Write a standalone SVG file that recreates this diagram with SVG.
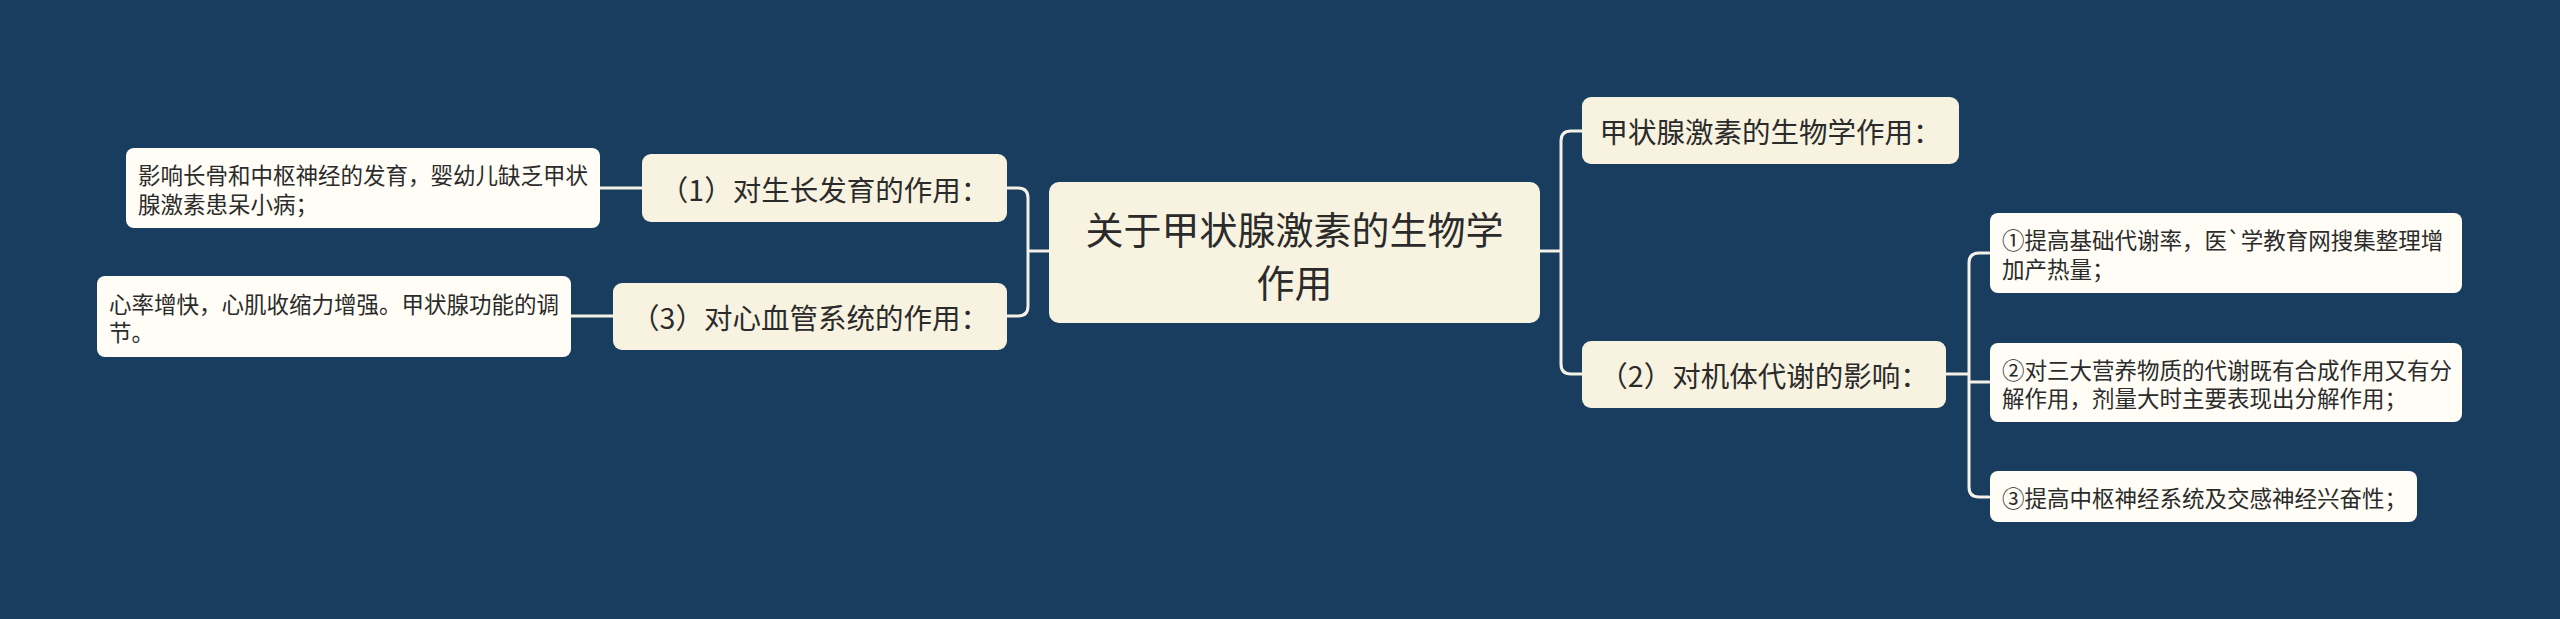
<svg xmlns="http://www.w3.org/2000/svg" width="2560" height="619" viewBox="0 0 2560 619">
<style>
.bg{fill:#183d5e}
.main{fill:#f8f3e0}
.br{fill:#f8f3e0}
.leaf{fill:#fffdf6}
.lk{fill:none;stroke:#f4f1e6;stroke-width:3;stroke-linecap:round}
text{font-family:"Noto Sans CJK SC","Noto Sans",sans-serif;fill:#2b2b2b;dominant-baseline:central}
.t0{font-size:38px}
.t1{font-size:28.5px}
.t2{font-size:22.5px}
</style>
<rect class="bg" x="0" y="0" width="2560" height="619"/>
<g id="connectors">
<path class="lk" d="M1540 251 H1561 M1582 131 H1571 Q1561 131 1561 141 V364 Q1561 374 1571 374 H1582"/>
<path class="lk" d="M1946 374 H1969 M1989 253 H1979 Q1969 253 1969 263 V487 Q1969 497 1979 497 H1989 M1969 382 H1989"/>
<path class="lk" d="M1049 251 H1028 M1007 188 H1018 Q1028 188 1028 198 V306 Q1028 316 1018 316 H1007"/>
<path class="lk" d="M642 188 H600"/>
<path class="lk" d="M613 316 H571"/>
</g>
<g id="n0">
<rect class="main" x="1049" y="182" width="491" height="141" rx="10"/>
<text class="t0" x="1294.5" y="227" text-anchor="middle">关于甲状腺激素的生物学</text>
<text class="t0" x="1294.5" y="280" text-anchor="middle">作用</text>
</g>
<g id="r1">
<rect class="br" x="1582" y="97" width="377" height="67" rx="9"/>
<text class="t1" x="1770.5" y="130.5" text-anchor="middle">甲状腺激素的生物学作用：</text>
</g>
<g id="r2">
<rect class="br" x="1582" y="341" width="364" height="67" rx="9"/>
<text class="t1" x="1764" y="374.5" text-anchor="middle">（2）对机体代谢的影响：</text>
</g>
<g id="r2a">
<rect class="leaf" x="1990" y="213" width="472" height="80" rx="8"/>
<text class="t2" x="2002" y="239">①提高基础代谢率，医`学教育网搜集整理增</text>
<text class="t2" x="2002" y="267.5">加产热量；</text>
</g>
<g id="r2b">
<rect class="leaf" x="1990" y="343" width="472" height="79" rx="8"/>
<text class="t2" x="2002" y="368.5">②对三大营养物质的代谢既有合成作用又有分</text>
<text class="t2" x="2002" y="397">解作用，剂量大时主要表现出分解作用；</text>
</g>
<g id="r2c">
<rect class="leaf" x="1990" y="471" width="427" height="51" rx="8"/>
<text class="t2" x="2002" y="496.5">③提高中枢神经系统及交感神经兴奋性；</text>
</g>
<g id="l1">
<rect class="br" x="642" y="154" width="365" height="68" rx="9"/>
<text class="t1" x="824.5" y="188" text-anchor="middle">（1）对生长发育的作用：</text>
</g>
<g id="l1a">
<rect class="leaf" x="126" y="148" width="474" height="80" rx="8"/>
<text class="t2" x="138" y="174">影响长骨和中枢神经的发育，婴幼儿缺乏甲状</text>
<text class="t2" x="138" y="202.5">腺激素患呆小病；</text>
</g>
<g id="l3">
<rect class="br" x="613" y="283" width="394" height="67" rx="9"/>
<text class="t1" x="810" y="316.5" text-anchor="middle">（3）对心血管系统的作用：</text>
</g>
<g id="l3a">
<rect class="leaf" x="97" y="276" width="474" height="81" rx="8"/>
<text class="t2" x="109" y="302.5">心率增快，心肌收缩力增强。甲状腺功能的调</text>
<text class="t2" x="109" y="331">节。</text>
</g>
</svg>
